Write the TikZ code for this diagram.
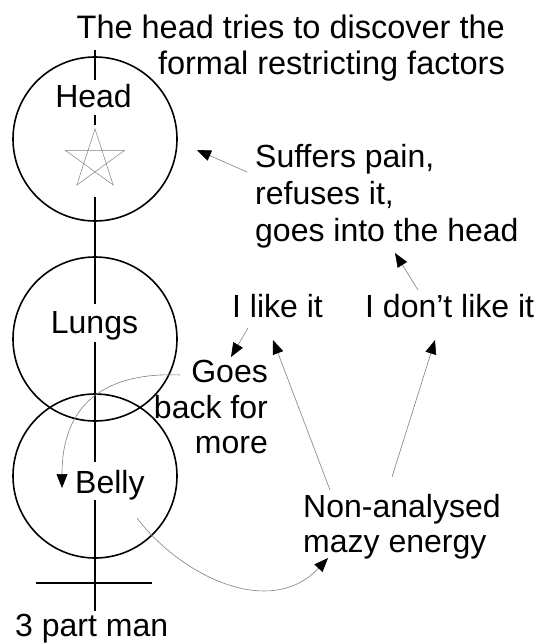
\documentclass[tikz,border=0pt]{standalone}
\usepackage{fontspec}
\setmainfont{Liberation Sans}
\usetikzlibrary{arrows.meta}
\tikzset{
  part/.style={circle, draw, line width=1.6pt, minimum size=164pt, inner sep=0pt},
  lbl/.style={inner sep=0pt},
  note/.style={-{Triangle[length=14pt,width=11pt,color=black]}, gray, line width=0.6pt},
}
\begin{document}
\begin{tikzpicture}[x=1pt, y=-1pt, font=\fontsize{32}{35.5}\selectfont]
	\useasboundingbox (0,0) rectangle (539,644);
	% drei Kreise: Kopf, Lunge, Bauch
	\node[part] (headC) at (95,139) {};
	\node[part] (lungsC) at (95,339) {};
	\node[part] (bellyC) at (95,476) {};
	% Achse, unterbrochen an den Texten
	\foreach \ya/\yb in {50/80, 115/125, 197/304, 342/462, 500/611}
		\draw[line width=1.6pt] (95,\ya) -- (95,\yb);
	\draw[line width=1.6pt] (36,583) -- (152,583);
	\draw[gray, line width=0.5pt] (95,160) +(-90:31) -- +(54:31) -- +(198:31) -- +(342:31) -- +(126:31) -- cycle;
	% Texte
	\node[lbl, anchor=north east, align=right, font=\fontsize{32.5}{36}\selectfont] (title) at (505,15) {The head tries to discover the\\formal restricting factors};
	\node[lbl, anchor=base] (head) at (93.5,108) {Head};
	\node[lbl, anchor=base] (lungs) at (94.5,333) {Lungs};
	\node[lbl, anchor=base west] (belly) at (75,493) {Belly};
	\node[lbl, anchor=base west] (man) at (15,636.5) {3 part man};
	\node[lbl, anchor=north west, align=left, font=\fontsize{32}{37}\selectfont] (suffers) at (255,144.6) {Suffers pain,\\refuses it,\\goes into the head};
	\node[lbl, anchor=base west] (ilike) at (232,317) {I like it};
	\node[lbl, anchor=base west] (idont) at (365,317) {I don’t like it};
	\node[lbl, anchor=north east, align=right] (goes) at (268,360) {Goes\\back for\\more};
	\node[lbl, anchor=north west, align=left] (energy) at (303,494) {Non-analysed\\mazy energy};
	% Pfeilspitzen
	\coordinate (headR) at (197,150);
	\coordinate (intoHead) at (395,253);
	\coordinate (goesTop) at (231,357);
	\coordinate (ilikeFoot) at (273,340);
	\coordinate (idontFoot) at (435,340);
	\coordinate (bellyIn) at (62,488);
	\coordinate (energyIn) at (328,558);
	% Pfeile
	\draw[note] ([shift={(-8,27.4)}]suffers.north west) -- (headR);
	\draw[note] ([shift={(53,-27)}]idont.base west) -- (intoHead);
	\draw[note] ([shift={(16,11)}]ilike.base west) -- (goesTop);
	\draw[note] ([shift={(27,-4)}]energy.north west) -- (ilikeFoot);
	\draw[note] ([shift={(89,-17)}]energy.north west) -- (idontFoot);
	\draw[note] ([shift={(-88,15)}]goes.north east) .. controls (110,372) and (62,400) .. (bellyIn);
	\draw[note] ([shift={(62,25)}]belly.base west) .. controls (180,575) and (270,620) .. (energyIn);
\end{tikzpicture}
\end{document}
